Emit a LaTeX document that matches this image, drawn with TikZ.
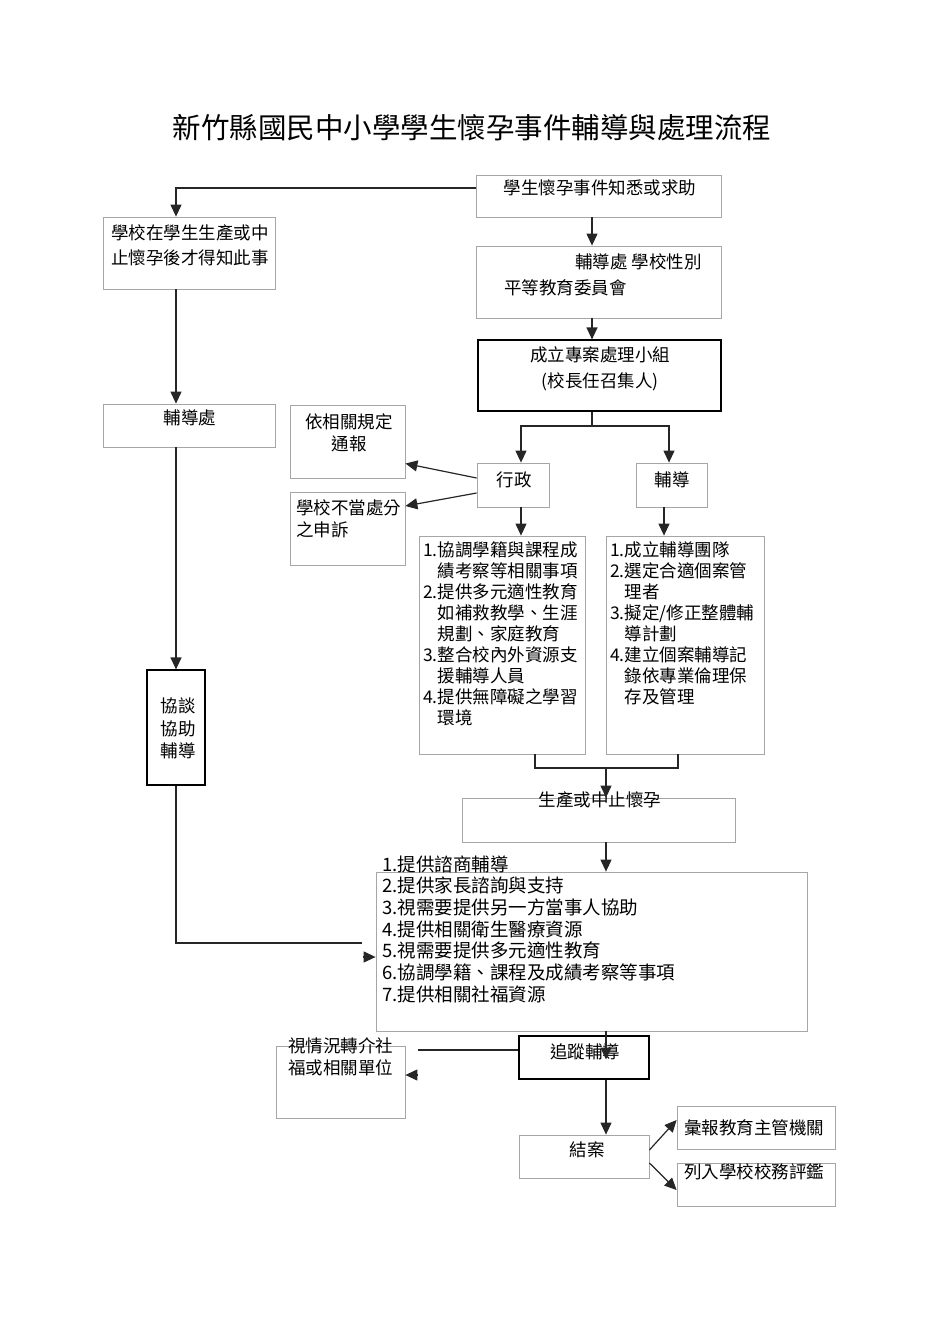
\documentclass[tikz,border=0pt]{standalone}
\usepackage{fontspec}
\setmainfont{Noto Sans CJK TC}
\usetikzlibrary{arrows.meta}
\tikzset{
  gbox/.style={draw=black!35, line width=0.8pt, inner sep=0pt},
  kbox/.style={draw=black, line width=1.2pt, inner sep=0pt},
  txt/.style={inner sep=0pt, font=\fontsize{17.5}{22}\selectfont},
  arr/.style={line width=1.2pt, draw=black!85, -{Triangle[length=12pt,width=11pt]}},
  ln/.style={line width=1.2pt, draw=black!85},
}
\begin{document}
\begin{tikzpicture}[x=1pt,y=-1pt]
\useasboundingbox (0,0) rectangle (950,1344);
% title
\node[inner sep=0pt, font=\fontsize{28.5}{32}\selectfont] (title) at (472,128) {新竹縣國民中小學學生懷孕事件輔導與處理流程};
% boxes
\node[gbox, minimum width=245pt, minimum height=42pt] (know) at (598.5,196) {};
\node[gbox, minimum width=172pt, minimum height=72pt] (late) at (189,253) {};
\node[gbox, minimum width=245pt, minimum height=72pt] (comm) at (598.5,282) {};
\node[kbox, minimum width=243pt, minimum height=71pt] (group) at (599.5,375.5) {};
\node[gbox, minimum width=172pt, minimum height=43pt] (fd) at (189,425.5) {};
\node[gbox, minimum width=115pt, minimum height=73pt] (report) at (347.5,441.5) {};
\node[gbox, minimum width=72pt, minimum height=44pt] (admin) at (513,485) {};
\node[gbox, minimum width=71pt, minimum height=44pt] (couns) at (671.5,485) {};
\node[gbox, minimum width=115pt, minimum height=73pt] (appeal) at (347.5,528.5) {};
\node[gbox, minimum width=166pt, minimum height=218pt] (alist) at (502,645) {};
\node[gbox, minimum width=158pt, minimum height=218pt] (clist) at (685,645) {};
\node[kbox, minimum width=58pt, minimum height=115pt] (talk) at (176,727.5) {};
\node[gbox, minimum width=273pt, minimum height=44pt] (birth) at (598.5,820) {};
\node[gbox, minimum width=431pt, minimum height=159pt] (big) at (591.5,951.5) {};
\node[gbox, minimum width=129pt, minimum height=72pt] (refer) at (340.5,1082) {};
\node[kbox, minimum width=130pt, minimum height=43pt] (track) at (584,1057.5) {};
\node[gbox, minimum width=130pt, minimum height=43pt] (close) at (584,1156.5) {};
\node[gbox, minimum width=158pt, minimum height=43pt] (rep) at (756,1127.5) {};
\node[gbox, minimum width=158pt, minimum height=43pt] (eval) at (756,1184.5) {};
% texts
\node[txt] (tknow) at (600,188) {學生懷孕事件知悉或求助};
\node[txt, anchor=west, align=left, font=\fontsize{17.5}{25}\selectfont] (tlate) at (111,245.5) {學校在學生生產或中\\止懷孕後才得知此事};
\node[txt, anchor=west] (tcomm1) at (575,262) {輔導處 學校性別};
\node[txt, anchor=west] (tcomm2) at (504,288) {平等教育委員會};
\node[txt, align=center, font=\fontsize{17.5}{26}\selectfont] (tgroup) at (600,369) {成立專案處理小組\\(校長任召集人)};
\node[txt] (tfd) at (190,418) {輔導處};
\node[txt, align=center] (treport) at (349,433) {依相關規定\\通報};
\node[txt] (tadmin) at (514,480) {行政};
\node[txt] (tcouns) at (672,480) {輔導};
\node[txt, anchor=west, align=left] (tappeal) at (296,519) {學校不當處分\\之申訴};
\node[txt, anchor=west, align=left, font=\fontsize{17.5}{21}\selectfont] (talist) at (423,634) {1.協調學籍與課程成\\\phantom{1.}績考察等相關事項\\2.提供多元適性教育\\\phantom{2.}如補救教學、生涯\\\phantom{2.}規劃、家庭教育\\3.整合校內外資源支\\\phantom{3.}援輔導人員\\4.提供無障礙之學習\\\phantom{4.}環境};
\node[txt, anchor=west, align=left, font=\fontsize{17.5}{21}\selectfont] (tclist) at (610,623.5) {1.成立輔導團隊\\2.選定合適個案管\\\phantom{2.}理者\\3.擬定/修正整體輔\\\phantom{3.}導計劃\\4.建立個案輔導記\\\phantom{4.}錄依專業倫理保\\\phantom{4.}存及管理};
\node[txt, align=center, font=\fontsize{17.5}{22.5}\selectfont] (ttalk) at (178,728.5) {協談\\協助\\輔導};
\node[txt] (tbirth) at (600,800) {生產或中止懷孕};
\node[txt, anchor=west, align=left, font=\fontsize{18.5}{21.67}\selectfont] (tbig) at (382,929) {1.提供諮商輔導\\2.提供家長諮詢與支持\\3.視需要提供另一方當事人協助\\4.提供相關衛生醫療資源\\5.視需要提供多元適性教育\\6.協調學籍、課程及成績考察等事項\\7.提供相關社福資源};
\node[txt, anchor=west, align=left] (trefer) at (288,1057) {視情況轉介社\\福或相關單位};
\node[txt] (ttrack) at (585,1052) {追蹤輔導};
\node[txt] (tclose) at (587,1150) {結案};
\node[txt, anchor=west] (trep) at (684,1128) {彙報教育主管機關};
\node[txt, anchor=west] (teval) at (684,1172) {列入學校校務評鑑};
% connectors
\draw[arr] ([yshift=8pt]know.west) -| ([xshift=-13pt]late.north);
\draw[arr] ([xshift=-6.5pt]know.south) -- ([xshift=-6.5pt]know.south |- comm.north);
\draw[arr] ([xshift=-6.5pt]comm.south) -- ([xshift=-6.5pt]comm.south |- group.north);
\coordinate (split) at (592,426);
\draw[ln] (group.south -| split) -- (split);
\draw[arr] (split) -| ([xshift=8pt]admin.north);
\draw[arr] (split) -| ([xshift=-2.5pt]couns.north);
\draw[arr] ([xshift=-13pt]late.south) -- ([xshift=-13pt]late.south |- fd.north);
\draw[arr] (fd.south -| talk.north) -- (talk.north);
\draw[arr] ([yshift=7pt]admin.west) -- ([yshift=-22pt]report.east);
\draw[arr] ([yshift=-8pt]admin.west) -- ([yshift=22.5pt]appeal.east);
\draw[arr] ([xshift=8pt]admin.south) -- ([xshift=8pt]admin.south |- alist.north);
\draw[arr] ([xshift=-7.5pt]couns.south) -- ([xshift=-7.5pt]couns.south |- clist.north);
\coordinate (join) at (606,768);
\draw[ln] ([xshift=33pt]alist.south) |- (join);
\draw[ln] ([xshift=-7pt]clist.south) |- (join);
\draw[arr] (join) -- (join |- birth.north);
\draw[arr] ([xshift=7.5pt]birth.south) -- ([xshift=7.5pt]birth.south |- big.north);
\coordinate (tk) at (362,943);
\draw[ln] (talk.south) |- (tk);
\draw[arr] ([xshift=-13pt,yshift=-5.5pt]big.west) -- ([yshift=-5.5pt]big.west);
\draw[arr] ([xshift=14.5pt]big.south) -- ([xshift=14.5pt,yshift=-2pt]big.south |- track.center);
\coordinate (rf) at (418,1050);
\draw[ln] ([yshift=7.5pt]track.west) -- (rf);
\draw[arr] ([xshift=13pt,yshift=7pt]refer.east) -- ([yshift=7pt]refer.east);
\draw[arr] ([xshift=22pt]track.south) -- ([xshift=22pt]close.north);
\draw[arr] ([yshift=6.5pt]close.east) -- ([yshift=7.5pt]rep.west);
\draw[arr] ([yshift=-6.5pt]close.east) -- ([yshift=-5.5pt]eval.west);
\end{tikzpicture}
\end{document}
